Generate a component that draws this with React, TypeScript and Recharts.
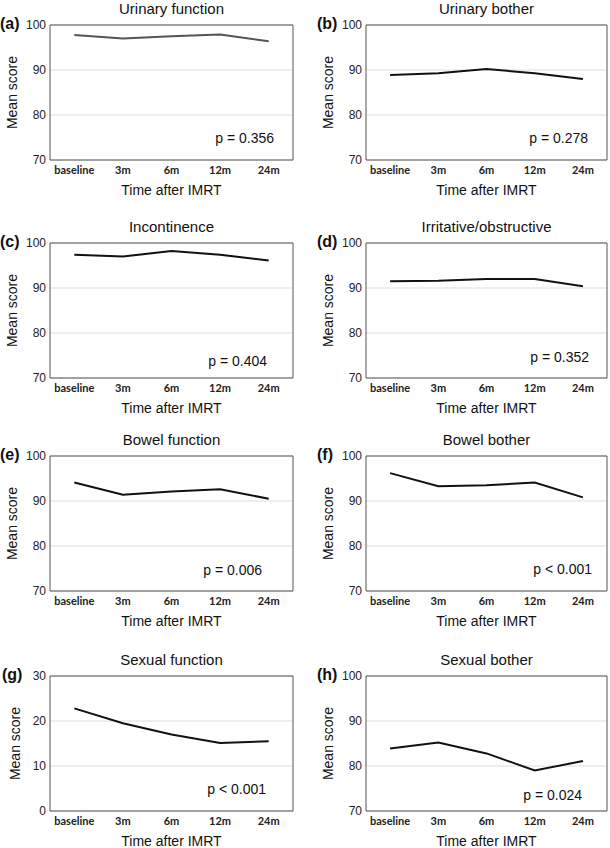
import React from 'react';
import { LineChart, Line, XAxis, YAxis, CartesianGrid, ReferenceArea } from 'recharts';

const categories = ['baseline', '3m', '6m', '12m', '24m'];
const scoreTicks = [70, 80, 90, 100];
const sexualFunctionTicks = [0, 10, 20, 30];

const urinaryFunction = [97.8, 97.0, 97.5, 97.9, 96.4];
const urinaryBother = [88.9, 89.3, 90.2, 89.3, 88.0];
const incontinence = [97.4, 97.0, 98.2, 97.4, 96.1];
const irritativeObstructive = [91.5, 91.6, 92.0, 92.0, 90.4];
const bowelFunction = [94.1, 91.4, 92.1, 92.6, 90.5];
const bowelBother = [96.2, 93.3, 93.5, 94.1, 90.8];
const sexualFunction = [22.8, 19.5, 17.0, 15.1, 15.5];
const sexualBother = [83.9, 85.2, 82.8, 79.0, 81.1];

const panelTitles = [
  'Urinary function', 'Urinary bother', 'Incontinence', 'Irritative/obstructive',
  'Bowel function', 'Bowel bother', 'Sexual function', 'Sexual bother',
];
const panelLetters = ['(a)', '(b)', '(c)', '(d)', '(e)', '(f)', '(g)', '(h)'];
const pValues = ['p = 0.356', 'p = 0.278', 'p = 0.404', 'p = 0.352', 'p = 0.006', 'p < 0.001', 'p < 0.001', 'p = 0.024'];
const seriesList = [
  urinaryFunction, urinaryBother, incontinence, irritativeObstructive,
  bowelFunction, bowelBother, sexualFunction, sexualBother,
];
const domains: [number, number][] = [
  [70, 100], [70, 100], [70, 100], [70, 100], [70, 100], [70, 100], [0, 30], [70, 100],
];
const tickSets = [scoreTicks, scoreTicks, scoreTicks, scoreTicks, scoreTicks, scoreTicks, sexualFunctionTicks, scoreTicks];

// layout (not data)
const rowTops = [25, 243, 456, 676];
const plotHeight = 135;
const pRightOffsets = [19, 19, 26, 18, 31, 15, 27, 25];
const pBottomOffsets = [17, 17, 12, 16, 16, 17, 17, 11];
const lineColors = ['#555555', '#111111', '#111111', '#111111', '#111111', '#111111', '#111111', '#111111'];

const SANS = '"Liberation Sans", Arial, sans-serif';

function Panel({ index }: { index: number }) {
  const col = index % 2;
  const row = Math.floor(index / 2);
  const plotTop = rowTops[row];
  const chartLeft = col * 305;
  const chartTop = plotTop - 25;
  const chartHeight = 217;
  const marginLeft = 4;
  const yAxisWidth = col ? 57 : 46;
  const marginRight = col ? 3 : 12;
  const plotLeft = chartLeft + marginLeft + yAxisWidth;
  const plotWidth = 305 - marginLeft - yAxisWidth - marginRight;
  const yLabelOffset = col ? 19 : index === 6 ? 11 : 8;
  const data = categories.map((c, i) => ({ time: c, score: seriesList[index][i] }));
  const pRight = pRightOffsets[index];
  const pBottom = pBottomOffsets[index];
  const [dMin, dMax] = domains[index];

  return (
    <>
      <div
        style={{
          position: 'absolute', left: plotLeft, width: plotWidth, top: plotTop - 25,
          textAlign: 'center', fontFamily: SANS, fontSize: 15, lineHeight: '18px', color: '#111',
        }}
      >
        {panelTitles[index]}
      </div>
      <div
        style={{
          position: 'absolute', left: col ? 317 : index === 6 ? 2 : 0, top: plotTop - 10,
          fontFamily: SANS, fontSize: 16, fontWeight: 'bold', lineHeight: '18px', color: '#111',
        }}
      >
        {panelLetters[index]}
      </div>
      <div style={{ position: 'absolute', left: chartLeft, top: chartTop }}>
        <LineChart
          width={305}
          height={chartHeight}
          data={data}
          margin={{ top: 25, right: marginRight, bottom: 0, left: marginLeft }}
        >
          <CartesianGrid vertical={false} stroke="#dddddd" />
          <XAxis
            dataKey="time"
            scale="band"
            height={chartHeight - 25 - plotHeight}
            axisLine={false}
            tickLine={false}
            tickSize={4}
            tickMargin={2}
            interval={0}
            tick={{ fontFamily: 'Lato, sans-serif', fontWeight: 'bold', fontSize: 11, fill: '#222' }}
            label={{
              value: 'Time after IMRT', position: 'insideBottom', offset: 22,
              style: { fontFamily: SANS, fontSize: 14, fill: '#111' },
            }}
          />
          <YAxis
            width={yAxisWidth}
            domain={domains[index]}
            ticks={tickSets[index]}
            interval={0}
            axisLine={false}
            tickLine={false}
            tickSize={0}
            tickMargin={4}
            tick={{ fontFamily: SANS, fontSize: 12, fill: '#222' }}
            label={{
              value: 'Mean score', angle: -90, position: 'insideLeft', offset: yLabelOffset,
              style: { textAnchor: 'middle', fontFamily: SANS, fontSize: 14, fill: '#111' },
            }}
          />
          <ReferenceArea
            y1={dMin}
            y2={dMax}
            fill="none"
            fillOpacity={0}
            stroke="#555555"
            strokeWidth={1}
            strokeOpacity={1}
            ifOverflow="visible"
            label={(props: any) => {
              const vb = props.viewBox || {};
              return (
                <text
                  x={vb.x + vb.width - pRight}
                  y={vb.y + vb.height - pBottom}
                  textAnchor="end"
                  fontFamily={SANS}
                  fontSize={14}
                  fill="#111"
                >
                  {pValues[index]}
                </text>
              );
            }}
          />
          <Line
            type="linear"
            dataKey="score"
            stroke={lineColors[index]}
            strokeWidth={2}
            dot={false}
            activeDot={false}
            isAnimationActive={false}
          />
        </LineChart>
      </div>
    </>
  );
}

export default function App() {
  return (
    <div style={{ position: 'absolute', left: 0, top: 0, width: 610, height: 848, background: '#fff' }}>
      {panelTitles.map((_, i) => (
        <Panel key={i} index={i} />
      ))}
    </div>
  );
}
